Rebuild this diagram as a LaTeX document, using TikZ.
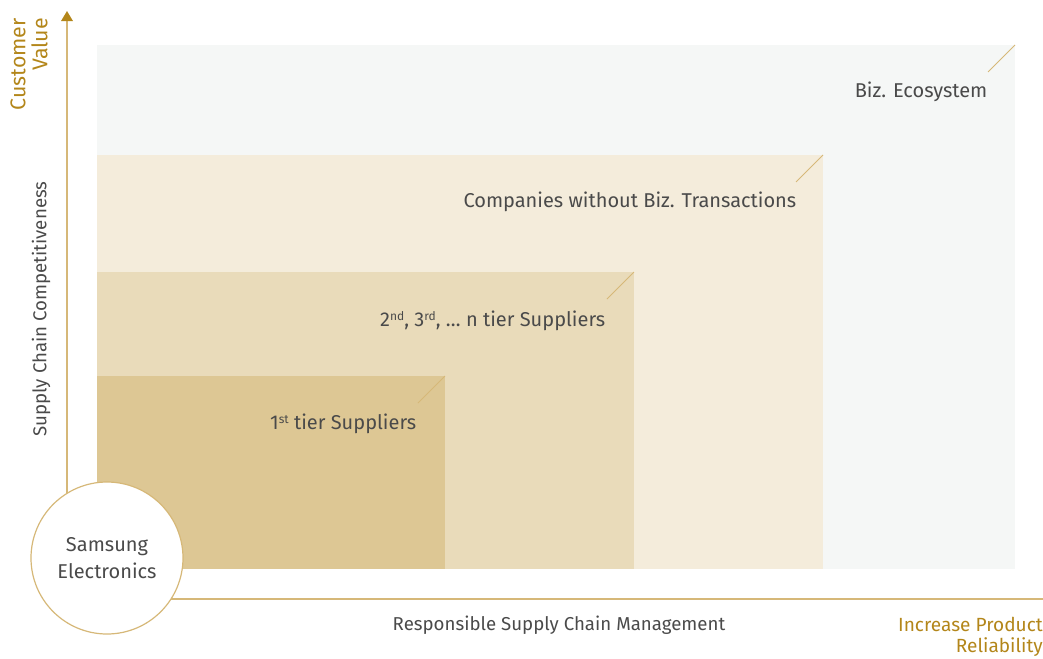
\documentclass[tikz,border=0pt]{standalone}
\usepackage{fontspec}
\setmainfont{Fira Sans}
\usetikzlibrary{arrows.meta}
\definecolor{goldline}{HTML}{D6B878}
\definecolor{goldtext}{HTML}{B3861A}
\definecolor{graytext}{HTML}{4A4A4A}
\definecolor{zoneA}{HTML}{F5F7F6}
\definecolor{zoneB}{HTML}{F4ECDB}
\definecolor{zoneC}{HTML}{E9DBBA}
\definecolor{zoneD}{HTML}{DDC794}
\newcommand{\ordsup}[1]{\raisebox{0.55ex}{\fontsize{9}{9}\selectfont #1}}

\begin{document}
\begin{tikzpicture}[x=0.75pt,y=-0.75pt,>=Latex,
  zonelabel/.style={text=graytext,font=\fontsize{15}{18}\selectfont,anchor=base east},
  axislabel/.style={text=graytext,font=\fontsize{14}{16}\selectfont},
  goallabel/.style={text=goldtext,align=right,inner sep=0pt}]
  \useasboundingbox (0,0) rectangle (1043,658);
  % axes
  \draw[goldline,line width=1.2pt] (67,600) -- (67,20);
  \fill[goldtext] (67,11) -- (73,21) -- (61,21) -- cycle;
  \draw[goldline,line width=1.2pt] (67,599) -- (1043,599);
  % nested zones
  \foreach \xr/\yt/\col in {1015/45/zoneA,823/155/zoneB,634/272/zoneC,445/376/zoneD}{
    \fill[\col] (97,\yt) rectangle (\xr,569);
    \draw[goldline,line width=0.7pt] (\xr,\yt) -- ++(-27,27);
  }
  \node[zonelabel] (eco) at (992,97) {Biz. Ecosystem};
  \node[zonelabel] (nontx) at (801,207) {Companies without Biz. Transactions};
  \node[zonelabel] (ntier) at (610,326) {2\ordsup{nd}, 3\ordsup{rd}, … n tier Suppliers};
  \node[zonelabel] (tier1) at (421,429) {1\ordsup{st} tier Suppliers};
  % origin
  \node[circle,draw=goldline,line width=0.9pt,fill=white,minimum size=114pt,
    align=center,text=graytext,font=\fontsize{15}{20}\selectfont] (samsung) at (107,558)
    {Samsung\\Electronics};
  % axis titles
  \node[axislabel,rotate=90] (ylab) at (41,309) {Supply Chain Competitiveness};
  \node[axislabel] (xlab) at (559,625) {Responsible Supply Chain Management};
  \node[goallabel,rotate=90,anchor=east,font=\fontsize{16}{16.5}\selectfont] (yval) at (29,18) {Customer\\Value};
  \node[goallabel,anchor=north east,font=\fontsize{14.3}{15.5}\selectfont] (xval) at (1043,617) {Increase Product\\Reliability};
\end{tikzpicture}
\end{document}
